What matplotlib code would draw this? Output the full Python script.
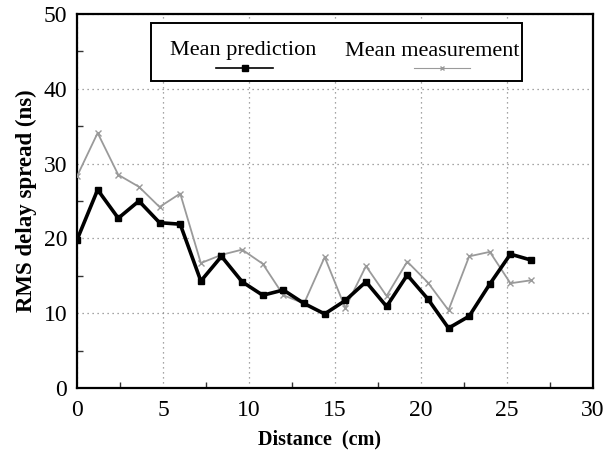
import matplotlib
matplotlib.use("Agg")
import matplotlib.pyplot as plt
from matplotlib.lines import Line2D
from matplotlib.patches import Rectangle

plt.rcParams['font.family'] = ['Liberation Serif', 'DejaVu Serif']

distance = [0.0, 1.2, 2.4, 3.6, 4.8, 6.0, 7.2, 8.4, 9.6, 10.8, 12.0, 13.2,
            14.4, 15.6, 16.8, 18.0, 19.2, 20.4, 21.6, 22.8, 24.0, 25.2, 26.4]
mean_prediction = [19.8, 26.5, 22.7, 25.0, 22.1, 21.9, 14.3, 17.6, 14.2, 12.4, 13.1, 11.3,
                   9.9, 11.7, 14.2, 10.9, 15.1, 11.9, 8.0, 9.6, 13.9, 17.9, 17.1]
mean_measurement = [28.3, 34.1, 28.5, 26.9, 24.2, 26.0, 16.7, 17.8, 18.5, 16.6, 12.4, 11.3,
                    17.5, 10.7, 16.3, 12.3, 16.9, 14.1, 10.4, 17.6, 18.2, 14.0, 14.4]
series_names = ["Mean prediction", "Mean measurement"]
x_label = "Distance  (cm)"
y_label = "RMS delay spread (ns)"

fig = plt.figure(figsize=(6.13, 4.54), dpi=100)
ax = fig.add_axes([77/613, 1-388/454, (593-77)/613, (388-14)/454])

meas_color = '#9a9a9a'
ax.plot(distance, mean_measurement, color=meas_color, lw=1.3, marker='x', ms=4,
        mec=meas_color, mew=1.0, zorder=3)
ax.plot(distance, mean_prediction, color='black', lw=2.6, marker='s', ms=4.5,
        mec='black', mfc='black', zorder=4)

ax.set_xlim(0, 30)
ax.set_ylim(0, 50)
ax.set_xticks(range(0, 31, 5))
ax.set_yticks(range(0, 51, 10))
ax.set_xticks([2.5 + 5*i for i in range(6)], minor=True)
ax.set_yticks([5 + 10*i for i in range(5)], minor=True)
ax.tick_params(axis='both', which='major', direction='in', length=0, labelsize=17)
ax.tick_params(axis='x', which='major', pad=9)
ax.tick_params(axis='y', which='major', pad=7)
ax.tick_params(axis='both', which='minor', direction='in', length=4, width=1, color='#333333')
ax.grid(True, which='major', linestyle=(0, (1, 3)), color='#888888', lw=0.9)
for s in ax.spines.values():
    s.set_linewidth(1.6)

ax.set_xlabel(x_label, fontsize=14.5, fontweight='bold')
ax.xaxis.set_label_coords((320-77)/516, (388-429)/374)
ax.set_ylabel(y_label, fontsize=16.5, fontweight='bold')
ax.yaxis.set_label_coords((37-77)/516, 0.5)

# legend drawn as a boxed panel with text above each line sample
lx0, lx1 = (151-77)/516, (522-77)/516
ly0, ly1 = (388-81)/374, (388-23)/374
ax.add_patch(Rectangle((lx0, ly0), lx1-lx0, ly1-ly0, transform=ax.transAxes,
                       facecolor='white', edgecolor='black', lw=1.4, zorder=10))
text_y = (388-51)/374
line_y = (388-68)/374
ax.text((243-77)/516, text_y, series_names[0], transform=ax.transAxes, fontsize=16,
        ha='center', va='center', zorder=11)
ax.text((432-77)/516, text_y, series_names[1], transform=ax.transAxes, fontsize=16,
        ha='center', va='center', zorder=11)
ax.add_line(Line2D([(216-77)/516, (273-77)/516], [line_y, line_y], transform=ax.transAxes,
                   color='black', lw=1.2, zorder=11))
ax.add_line(Line2D([(245-77)/516], [line_y], transform=ax.transAxes, color='black',
                   marker='s', ms=4, zorder=12))
ax.add_line(Line2D([(414-77)/516, (470-77)/516], [line_y, line_y], transform=ax.transAxes,
                   color=meas_color, lw=0.8, zorder=11))
ax.add_line(Line2D([(442-77)/516], [line_y], transform=ax.transAxes, color=meas_color,
                   marker='x', ms=3, zorder=12))

fig.savefig("out.png", dpi=100)
